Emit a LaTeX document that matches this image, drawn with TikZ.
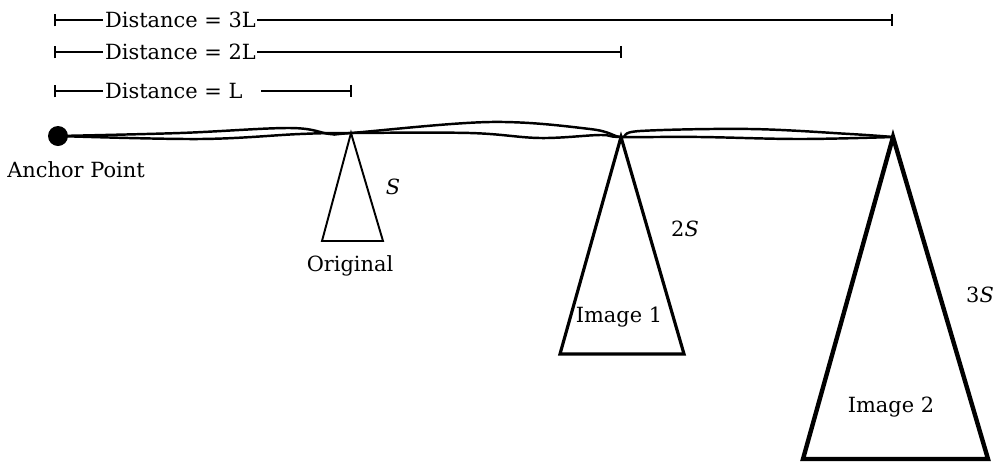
\documentclass[tikz,border=0pt]{standalone}
\usepackage{fontspec}
\setmainfont{DejaVu Serif}
\usetikzlibrary{arrows.meta}

\begin{document}
\begin{tikzpicture}
        [x=0.02cm, y=-0.02cm, font=\fontsize{11.9}{14}\selectfont,
        anchordot/.style={circle, fill=black, inner sep=0pt, minimum size=0.4cm},
        wire/.style={black, line width=1.4pt},
        dimline/.style={black, line width=1.1pt, {Bar[width=0.25cm]}-{Bar[width=0.25cm]}},
        dimlabel/.style={fill=white, inner xsep=1pt, inner ysep=0pt, anchor=west},
        label/.style={inner sep=0pt},
        small/.style={black, line width=1.1pt, line join=miter},
        medium/.style={black, line width=1.8pt, line join=miter},
        large/.style={black, line width=2.5pt, line join=miter}]

        \useasboundingbox (0,0) rectangle (993,464);

        % anchor and apex points
        \node[anchordot] (anchor) at (58,136) {};
        \coordinate (o) at (351,133);
        \coordinate (i1) at (621,137);
        \coordinate (i2) at (893,137);

        % the two wires
        \draw[wire] plot[smooth, tension=0.6] coordinates
            {(anchor.center) (180,133) (290,128) (330,134) (o) (490,122) (590,129) (i1) (640,131) (750,129) (850,134) (i2)};
        \draw[wire] plot[smooth, tension=0.6] coordinates
            {(anchor.center) (200,139) (300,134) (o) (470,133) (540,138) (600,135) (i1) (700,137) (800,139) (i2)};

        % triangles
        \draw[small] (o) -- (383,241) -- (322,241) -- cycle;
        \draw[medium] (i1) -- (684,354) -- (560,354) -- cycle;
        \draw[large] (i2) -- (988,459) -- (803,459) -- cycle;

        % labels
        \node[label] (anchorlabel) at (76,170) {Anchor Point};
        \node[label] (origlabel) at (350,266) {Original};
        \node[label] (img1label) at (619,317) {Image 1};
        \node[label] (img2label) at (891,407) {Image 2};
        \node[label] (s1) at (393,187) {\textit{S}};
        \node[label] (s2) at (685,229) {2\textit{S}};
        \node[label] (s3) at (980,295) {3\textit{S}};

        % distance lines
        \coordinate (d3a) at (54,20);
        \coordinate (d3b) at (893,20);
        \coordinate (d2a) at (54,52);
        \coordinate (d2b) at (622,52);
        \coordinate (d1a) at (54,91);
        \coordinate (d1b) at (352,91);
        \draw[dimline] (d3a) -- (d3b);
        \draw[dimline] (d2a) -- (d2b);
        \draw[dimline] (d1a) -- (d1b);
        \node[dimlabel] (dist3) at (103,20) {Distance = 3L};
        \node[dimlabel] (dist2) at (103,52) {Distance = 2L};
        \node[dimlabel] (dist1) at (103,91) {Distance = L\hspace*{0.8em}\null};

\end{tikzpicture}
\end{document}
